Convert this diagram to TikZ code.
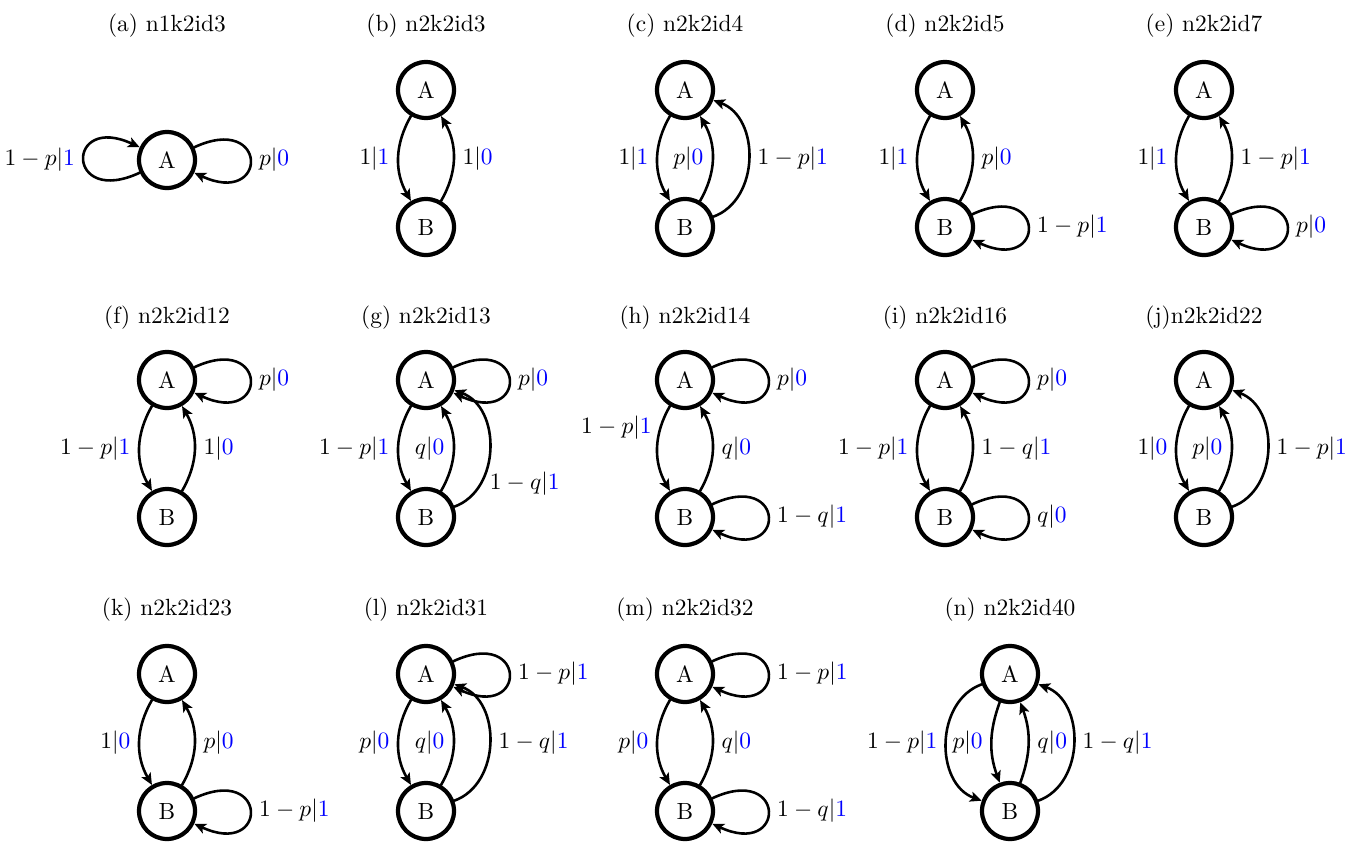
\documentclass[tikz,border=0pt]{standalone}
\usepackage{xcolor}
\usetikzlibrary{arrows.meta}
\newcommand{\emit}[1]{\textcolor{blue}{#1}}
\begin{document}
\begin{tikzpicture}[x=0.015cm, y=0.015cm, line join=round, line cap=round, >={Stealth[length=5pt, width=4.4pt, inset=1.2pt]},
    state/.style={circle, draw, line width=1.8pt, minimum size=0.84cm, inner sep=0pt},
    tr/.style={->, line width=1.1pt},
    bendin/.style={bend right=30},
    bendout/.style={bend right=70, looseness=1.1},
    loopr/.style={out=25, in=-25, distance=1.23cm},
    loopl/.style={out=205, in=155, distance=1.23cm}]
  \useasboundingbox (0,0) rectangle (1353,-842);
  \foreach \x/\y/\t in {167/26/(a) n1k2id3, 426/26/(b) n2k2id3, 685/26/(c) n2k2id4, 945/26/(d) n2k2id5, 1204/26/(e) n2k2id7,
      167/318/(f) n2k2id12, 426/318/(g) n2k2id13, 685/318/(h) n2k2id14, 945/318/(i) n2k2id16, 1204/318/(j)n2k2id22,
      167/610/(k) n2k2id23, 426/610/(l) n2k2id31, 685/610/(m) n2k2id32, 1010/610/(n) n2k2id40}{
    \node (ttl\x\y) at (\x,-\y) {\t};
  }
  \node[state] (aA) at (167,-160) {A};
  \foreach \f/\x/\y in {b/426/90, c/685/90, d/945/90, e/1204/90,
      f/167/380, g/426/380, h/685/380, i/945/380, j/1204/380,
      k/167/674, l/426/674, m/685/674, n/1010/674}{
    \node[state] (\f A) at (\x,-\y) {A};
    \node[state] (\f B) at (\x,-\y-137) {B};
  }

  \draw[tr] (aA) to[loopl] node[left] {$1-p|\emit{1}$} (aA);
  \draw[tr] (aA) to[loopr] node[right] {$p|\emit{0}$} (aA);

  \draw[tr] (bA) to[bendin] node[left] {$1|\emit{1}$} (bB);
  \draw[tr] (bB) to[bendin] node[right] {$1|\emit{0}$} (bA);

  \draw[tr] (cA) to[bendin] node[left] {$1|\emit{1}$} (cB);
  \draw[tr] (cB) to[bendin] node[left] {$p|\emit{0}$} (cA);
  \draw[tr] (cB) to[bendout] node[right] {$1-p|\emit{1}$} (cA);

  \draw[tr] (dA) to[bendin] node[left] {$1|\emit{1}$} (dB);
  \draw[tr] (dB) to[bendin] node[right] {$p|\emit{0}$} (dA);
  \draw[tr] (dB) to[loopr] node[right] {$1-p|\emit{1}$} (dB);

  \draw[tr] (eA) to[bendin] node[left] {$1|\emit{1}$} (eB);
  \draw[tr] (eB) to[bendin] node[right] {$1-p|\emit{1}$} (eA);
  \draw[tr] (eB) to[loopr] node[right] {$p|\emit{0}$} (eB);

  \draw[tr] (fA) to[loopr] node[right] {$p|\emit{0}$} (fA);
  \draw[tr] (fA) to[bendin] node[left] {$1-p|\emit{1}$} (fB);
  \draw[tr] (fB) to[bendin] node[right] {$1|\emit{0}$} (fA);

  \draw[tr] (gA) to[loopr] node[right] {$p|\emit{0}$} (gA);
  \draw[tr] (gA) to[bendin] node[left] {$1-p|\emit{1}$} (gB);
  \draw[tr] (gB) to[bendin] node[left] {$q|\emit{0}$} (gA);
  \draw[tr] (gB) to[bendout] node[right, pos=0.25] {$1-q|\emit{1}$} (gA);

  \draw[tr] (hA) to[loopr] node[right] {$p|\emit{0}$} (hA);
  \draw[tr] (hA) to[bendin] node[left, pos=0.25] {$1-p|\emit{1}$} (hB);
  \draw[tr] (hB) to[bendin] node[right] {$q|\emit{0}$} (hA);
  \draw[tr] (hB) to[loopr] node[right] {$1-q|\emit{1}$} (hB);

  \draw[tr] (iA) to[loopr] node[right] {$p|\emit{0}$} (iA);
  \draw[tr] (iA) to[bendin] node[left] {$1-p|\emit{1}$} (iB);
  \draw[tr] (iB) to[bendin] node[right] {$1-q|\emit{1}$} (iA);
  \draw[tr] (iB) to[loopr] node[right] {$q|\emit{0}$} (iB);

  \draw[tr] (jA) to[bendin] node[left] {$1|\emit{0}$} (jB);
  \draw[tr] (jB) to[bendin] node[left] {$p|\emit{0}$} (jA);
  \draw[tr] (jB) to[bendout] node[right] {$1-p|\emit{1}$} (jA);

  \draw[tr] (kA) to[bendin] node[left] {$1|\emit{0}$} (kB);
  \draw[tr] (kB) to[bendin] node[right] {$p|\emit{0}$} (kA);
  \draw[tr] (kB) to[loopr] node[right] {$1-p|\emit{1}$} (kB);

  \draw[tr] (lA) to[loopr] node[right] {$1-p|\emit{1}$} (lA);
  \draw[tr] (lA) to[bendin] node[left] {$p|\emit{0}$} (lB);
  \draw[tr] (lB) to[bendin] node[left] {$q|\emit{0}$} (lA);
  \draw[tr] (lB) to[bendout] node[right] {$1-q|\emit{1}$} (lA);

  \draw[tr] (mA) to[loopr] node[right] {$1-p|\emit{1}$} (mA);
  \draw[tr] (mA) to[bendin] node[left] {$p|\emit{0}$} (mB);
  \draw[tr] (mB) to[bendin] node[right] {$q|\emit{0}$} (mA);
  \draw[tr] (mB) to[loopr] node[right] {$1-q|\emit{1}$} (mB);

  \draw[tr] (nA) to[bendout] node[left] {$1-p|\emit{1}$} (nB);
  \draw[tr] (nA) to[bend right=20] node[left] {$p|\emit{0}$} (nB);
  \draw[tr] (nB) to[bend right=20] node[right] {$q|\emit{0}$} (nA);
  \draw[tr] (nB) to[bendout] node[right] {$1-q|\emit{1}$} (nA);
\end{tikzpicture}
\end{document}
